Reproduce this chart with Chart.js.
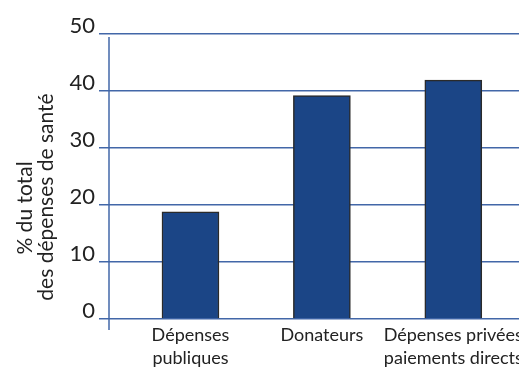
<!DOCTYPE html>
<html>
<head>
<meta charset="utf-8">
<script src="https://cdn.jsdelivr.net/npm/chart.js@4/dist/chart.umd.min.js"></script>
<style>
  html, body { margin: 0; padding: 0; background: #fff; }
  #wrap { width: 519px; height: 367px; overflow: hidden; }
</style>
</head>
<body>
<div id="wrap"><canvas id="chart" width="519" height="367"></canvas></div>
<script>
// Data
const categories = [["Dépenses", "publiques"], ["Donateurs"], ["Dépenses privées", "paiements directs"]]
const shares = [18.8, 39.2, 41.9]
const yTicks = [0, 10, 20, 30, 40, 50]
const yTitle = ["% du total", "des dépenses de santé"]

const blue = "#1b4586"
const gridBlue = "#4267a8"
const ink = "#222"

// y axis line that runs a bit below zero, plus the two-line axis title
const decorPlugin = {
  id: "decor",
  afterDraw(chart) {
    const ctx = chart.ctx
    const area = chart.chartArea
    ctx.save()
    ctx.strokeStyle = gridBlue
    ctx.lineWidth = 1.5
    ctx.beginPath()
    ctx.moveTo(area.left, area.top + 3)
    ctx.lineTo(area.left, area.bottom + 11)
    ctx.stroke()

    ctx.fillStyle = ink
    ctx.font = "21px Lato"
    ctx.textAlign = "center"
    ctx.textBaseline = "alphabetic"
    const spots = [[32, 208], [52.5, 197]]
    yTitle.forEach((line, i) => {
      ctx.save()
      ctx.translate(spots[i][0], spots[i][1])
      ctx.rotate(-Math.PI / 2)
      ctx.fillText(line, 0, 0)
      ctx.restore()
    })
    ctx.restore()
  },
}

new Chart(document.getElementById("chart"), {
  type: "bar",
  data: {
    datasets: [
      {
        data: shares.map((v, i) => ({ x: i, y: v })),
        backgroundColor: blue,
        borderColor: "#2a2a2a",
        borderWidth: 1.5,
        barThickness: 57,
      },
    ],
  },
  options: {
    responsive: false,
    animation: false,
    devicePixelRatio: 1,
    layout: { padding: { top: 34, right: 0, bottom: 0, left: 0 } },
    plugins: { legend: { display: false }, tooltip: { enabled: false } },
    scales: {
      x: {
        type: "linear",
        offset: false,
        min: -0.62,
        max: 2.5,
        grid: { display: false, drawTicks: false },
        border: { display: false },
        ticks: {
          stepSize: 1,
          includeBounds: false,
          autoSkip: false,
          maxRotation: 0,
          padding: 4,
          color: ink,
          font: { family: "Lato", size: 18, lineHeight: 1.3 },
          callback: (v) => categories[v] || "",
        },
        afterFit(scale) {
          scale.height = 48
          scale.paddingLeft = 0
          scale.paddingRight = 0
        },
      },
      y: {
        min: 0,
        max: 50,
        grid: { color: gridBlue, lineWidth: 1.5, tickLength: 10, drawTicks: true },
        border: { display: false },
        afterBuildTicks(scale) {
          scale.ticks = yTicks.map((v) => ({ value: v }))
        },
        ticks: {
          padding: 4,
          labelOffset: -8,
          color: ink,
          font: { family: "Lato", size: 22 },
        },
        afterFit(scale) {
          scale.width = 109
          scale.paddingTop = 0
          scale.paddingBottom = 0
        },
      },
    },
  },
  plugins: [decorPlugin],
})
</script>
</body>
</html>
